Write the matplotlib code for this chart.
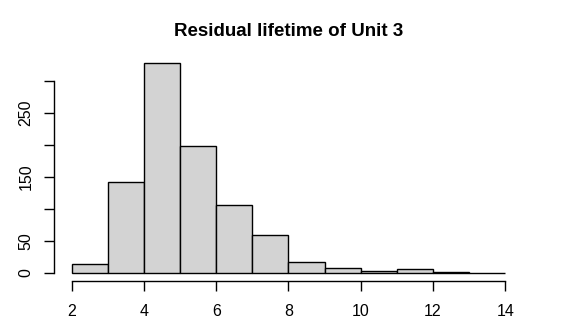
import numpy as np
import matplotlib.pyplot as plt

plt.rcParams['font.family'] = ['Liberation Sans', 'DejaVu Sans']

# histogram bins (width 1) and counts
bin_edges = [2, 3, 4, 5, 6, 7, 8, 9, 10, 11, 12, 13, 14]
counts = [14, 143, 329, 198, 106, 59, 17, 8, 3, 6, 1, 0]

xticks = [2, 4, 6, 8, 10, 12, 14]
yticks = [0, 50, 100, 150, 200, 250, 300]
ylabels = ['0', '50', '', '150', '', '250', '']

fig = plt.figure(figsize=(5.77, 3.36), dpi=100)
ax = fig.add_axes([0.0943, 0.1625, 0.8114, 0.6765])

left = np.array(bin_edges[:-1])
ax.bar(left, counts, width=np.diff(bin_edges), align='edge',
       color='#d3d3d3', edgecolor='black', linewidth=1.0)

# R-style extents: 4% padding around the data range
xr = bin_edges[-1] - bin_edges[0]
ax.set_xlim(bin_edges[0] - 0.04 * xr, bin_edges[-1] + 0.04 * xr)
ymax = max(counts)
ax.set_ylim(-0.04 * ymax, ymax * 1.04)

for s in ['top', 'right']:
    ax.spines[s].set_visible(False)
ax.spines['left'].set_bounds(0, 300)
ax.spines['bottom'].set_bounds(2, 14)
ax.spines['left'].set_linewidth(1.0)
ax.spines['bottom'].set_linewidth(1.0)

ax.set_xticks(xticks)
ax.set_xticklabels([str(t) for t in xticks])
ax.set_yticks(yticks)
ax.set_yticklabels(ylabels, rotation=90, va='center')
ax.tick_params(axis='both', length=7, width=1.0, labelsize=11.5)
ax.tick_params(axis='x', pad=9)
ax.tick_params(axis='y', pad=8)

ax.set_title('Residual lifetime of Unit 3', fontsize=13.5, fontweight='bold', pad=13)

fig.savefig('out.png', dpi=100)
